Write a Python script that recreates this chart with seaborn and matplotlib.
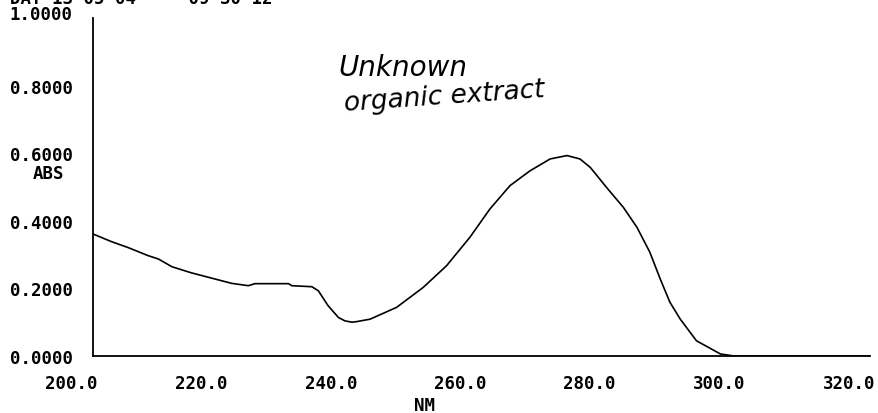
import matplotlib
matplotlib.use("Agg")
import matplotlib.pyplot as plt
import seaborn as sns
import pandas as pd
from matplotlib.ticker import MultipleLocator
from matplotlib.transforms import ScaledTranslation

# Spectrum values
wavelength_nm = [200.0, 202.9, 205.4, 208.5, 210.1, 212.2, 215.2, 219.4, 221.4, 224.0, 225.0,
                 230.2, 230.7, 233.8, 234.8, 236.3, 237.9, 238.9, 240.0, 240.8, 242.8, 246.9,
                 251.0, 254.6, 258.2, 261.3, 264.4, 267.5, 270.6, 273.2, 275.2, 276.8, 279.3,
                 281.9, 284.0, 286.0, 287.6, 289.1, 290.7, 293.2, 296.9, 299.0, 320.0]
absorbance = [0.361, 0.338, 0.321, 0.297, 0.287, 0.264, 0.246, 0.225, 0.215, 0.208, 0.214,
              0.214, 0.208, 0.205, 0.193, 0.149, 0.114, 0.104, 0.100, 0.102, 0.109, 0.144,
              0.203, 0.267, 0.351, 0.435, 0.504, 0.548, 0.583, 0.593, 0.583, 0.558, 0.499,
              0.440, 0.381, 0.307, 0.228, 0.159, 0.109, 0.045, 0.006, 0.000, 0.000]
x_ticks = [200, 220, 240, 260, 280, 300, 320]
y_ticks = [0.0, 0.2, 0.4, 0.6, 0.8, 1.0]

df = pd.DataFrame({"nm": wavelength_nm, "abs": absorbance})

sns.set_style("white")
plt.rcParams["font.family"] = ["DejaVu Sans Mono", "DejaVu Sans"]
plt.rcParams["text.color"] = "black"
plt.rcParams["xtick.color"] = "black"
plt.rcParams["ytick.color"] = "black"

fig = plt.figure(figsize=(8.79, 4.14), dpi=100)
ax = fig.add_axes([93 / 879, 1 - 357 / 414, 777 / 879, 338 / 414])

sns.lineplot(data=df, x="nm", y="abs", ax=ax, color="black", linewidth=1.2)

FS = 12.5
ax.set_xlim(200, 320)
ax.set_ylim(0, 1.0)
ax.set_xticks(x_ticks)
ax.set_xticklabels([f"{v:.1f}" for v in x_ticks], fontsize=FS, fontweight="bold")
ax.set_yticks(y_ticks)
ax.set_yticklabels([f"{v:.4f}" for v in y_ticks], fontsize=FS, fontweight="bold")
ax.yaxis.set_minor_locator(MultipleLocator(0.1))
ax.tick_params(axis="y", which="both", direction="out", length=6, width=1.2, color="black", pad=8.5)
ax.tick_params(axis="x", which="major", direction="in", length=6, width=1.2, color="black", pad=13)
shift = ScaledTranslation(5 / 100, 0, fig.dpi_scale_trans)
for lab in ax.get_xticklabels():
    lab.set_horizontalalignment("right")
    lab.set_transform(lab.get_transform() + shift)
# top label sits slightly above its tick in the reference
top_lab = ax.get_yticklabels()[-1]
top_lab.set_transform(top_lab.get_transform() + ScaledTranslation(0, 6 / 100, fig.dpi_scale_trans))
for s in ["top", "right"]:
    ax.spines[s].set_visible(False)
for s in ["left", "bottom"]:
    ax.spines[s].set_color("black")
    ax.spines[s].set_linewidth(1.3)

ax.set_xlabel("")
ax.set_ylabel("")
fig.text(425 / 879, 1 - 406 / 414, "NM", ha="center", va="center", fontsize=FS, fontweight="bold")
fig.text(48 / 879, 1 - 174 / 414, "ABS", ha="center", va="center", fontsize=FS, fontweight="bold")

# header line, mostly cut off at the top edge
fig.text(10 / 879, 1 - 3.5 / 414, "DAT 13 05 04     09 30 12", ha="left", va="baseline",
         fontsize=FS, fontweight="bold")

# handwritten note
fig.text(338 / 879, 1 - 68 / 414, "Unknown", ha="left", va="center", fontsize=20,
         style="italic", family="DejaVu Sans", fontweight="light", color="black")
fig.text(343 / 879, 1 - 97 / 414, "organic extract", ha="left", va="center", fontsize=19,
         style="italic", family="DejaVu Sans", fontweight="light", rotation=4, color="black")

fig.savefig("out.png", dpi=100, facecolor="white")
